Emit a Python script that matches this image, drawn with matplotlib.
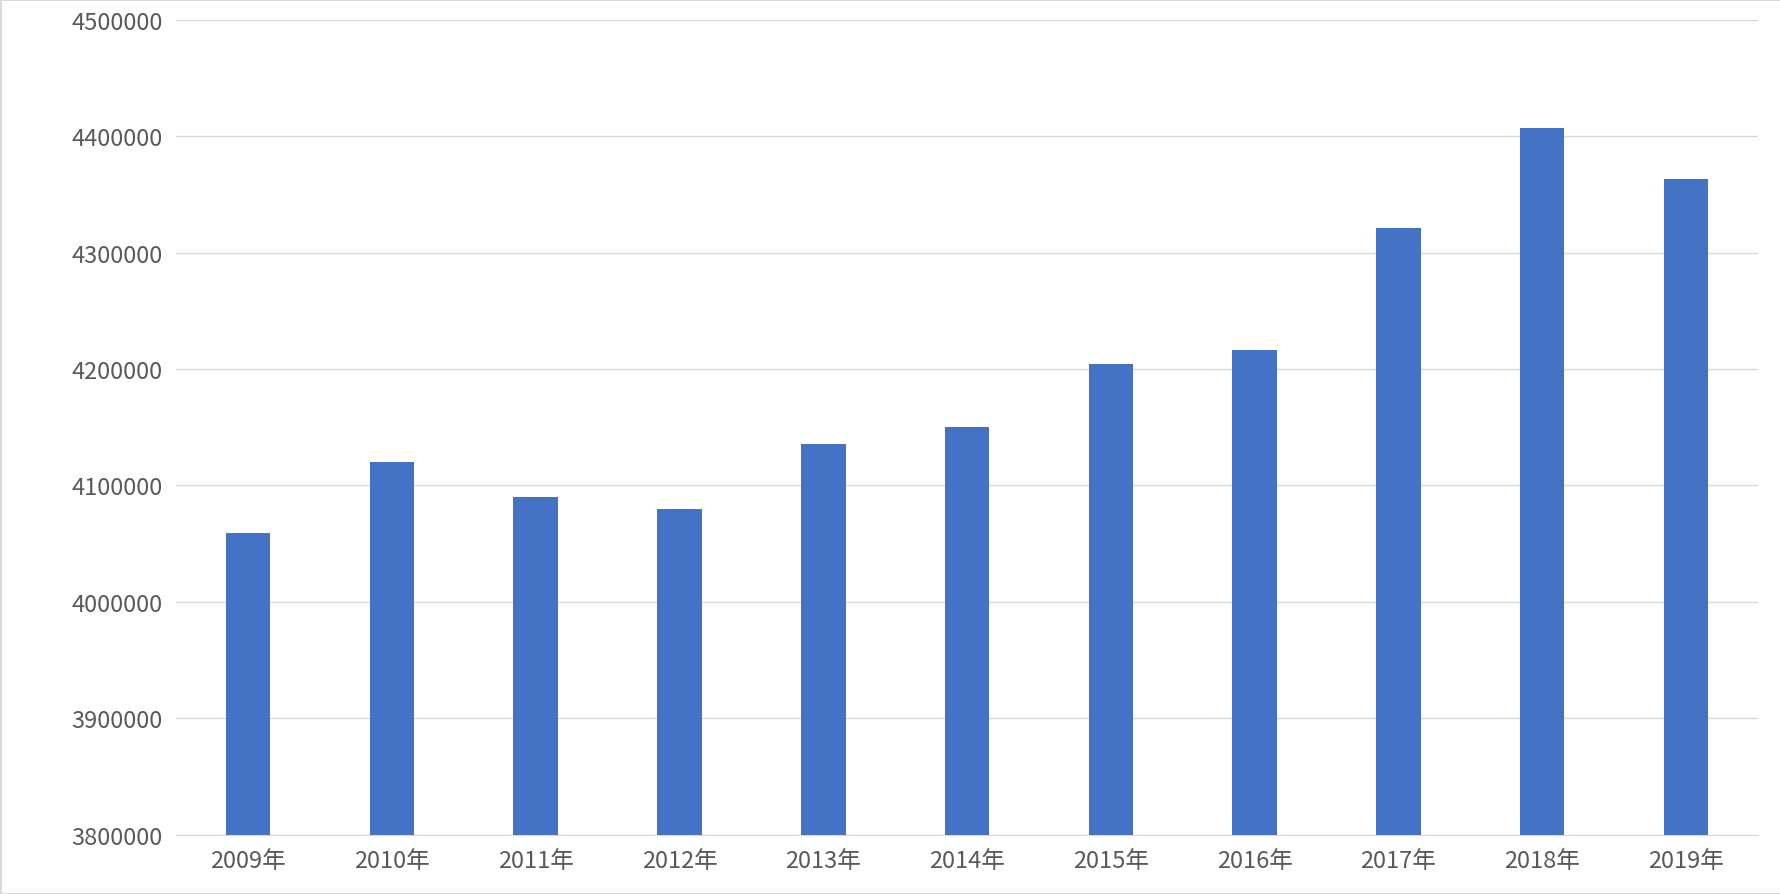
import matplotlib.pyplot as plt

plt.rcParams['font.family'] = ['Noto Sans CJK JP', 'DejaVu Sans']

years = ["2009年", "2010年", "2011年", "2012年", "2013年", "2014年",
         "2015年", "2016年", "2017年", "2018年", "2019年"]
values = [4059000, 4120000, 4090000, 4080000, 4136000, 4150000,
          4204000, 4216000, 4321000, 4407000, 4363000]
yticks = list(range(3800000, 4500001, 100000))

fig = plt.figure(figsize=(17.81, 8.95), dpi=100)
fig.patch.set_edgecolor("#d9d9d9")
fig.patch.set_linewidth(2)
ax = fig.add_axes([0.099, 0.066, 0.888, 0.911])

ax.bar(range(len(years)), values, width=0.31, color="#4472c4", zorder=3)
ax.set_ylim(3800000, 4500000)
ax.set_xlim(-0.5, len(years) - 0.5)
ax.set_yticks(yticks)
ax.set_yticklabels([str(v) for v in yticks])
ax.set_xticks(range(len(years)))
ax.set_xticklabels(years)
ax.grid(axis="y", color="#d9d9d9", linewidth=1, zorder=0)
for s in ["top", "right", "left"]:
    ax.spines[s].set_visible(False)
ax.spines["bottom"].set_color("#d9d9d9")
ax.tick_params(axis="both", length=0, labelsize=17, colors="#595959", pad=10)

fig.savefig("out.png", dpi=100, edgecolor=fig.get_edgecolor())
